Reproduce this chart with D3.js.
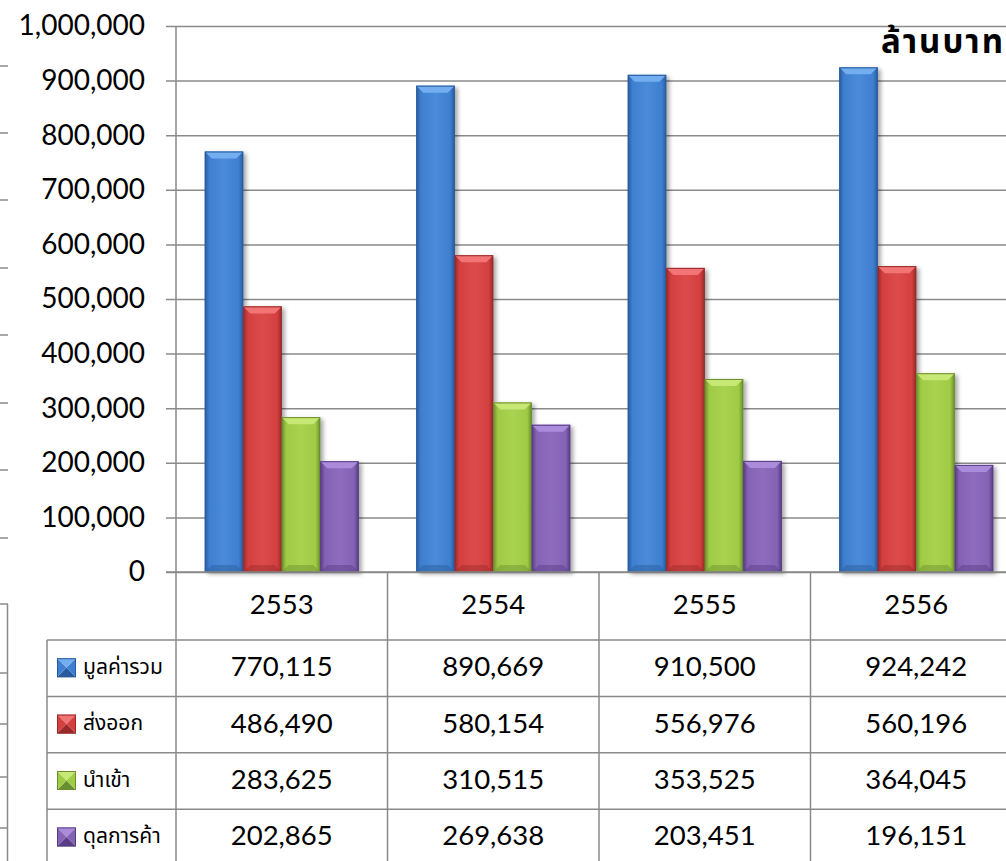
<!DOCTYPE html>
<html>
<head>
<meta charset="utf-8">
<script src="https://cdn.jsdelivr.net/npm/d3@7"></script>
<style>
html,body{margin:0;padding:0;background:#fff;}
svg{display:block;}
</style>
</head>
<body>
<svg id="chart" width="1006" height="861"></svg>
<script>
// ---- data ----
const categories = ["2553", "2554", "2555", "2556"];
const seriesNames = ["มูลค่ารวม", "ส่งออก", "นำเข้า", "ดุลการค้า"];
const totalValues   = [770115, 890669, 910500, 924242];
const exportValues  = [486490, 580154, 556976, 560196];
const importValues  = [283625, 310515, 353525, 364045];
const balanceValues = [202865, 269638, 203451, 196151];
const yTicks = [0, 100000, 200000, 300000, 400000, 500000, 600000, 700000, 800000, 900000, 1000000];
const unitLabel = "ล้านบาท";

const seriesValues = [totalValues, exportValues, importValues, balanceValues];
const palette = [
  {body:"#3e7fd0", light:"#72aef0", dark:"#285b9c"},
  {body:"#d43f3f", light:"#f27474", dark:"#982a2a"},
  {body:"#9fcb45", light:"#c8e875", dark:"#6b8e2e"},
  {body:"#8462b4", light:"#ab8cdb", dark:"#583c84"}
];

const numFont = "Lato, 'Open Sans', sans-serif";
const thaiFont = "Tahoma, 'Noto Sans Thai', Loma, Garuda, 'Noto Sans', 'DejaVu Sans', sans-serif";
const gridColor = "#8a8a8a";

const svg = d3.select("#chart");
const defs = svg.append("defs");
const f = defs.append("filter").attr("id","shadow").attr("x","-20%").attr("y","-5%").attr("width","150%").attr("height","115%");
f.append("feDropShadow").attr("dx",3).attr("dy",2).attr("stdDeviation",2).attr("flood-color","#000").attr("flood-opacity",0.35);

palette.forEach((p,i)=>{
  const g = defs.append("linearGradient").attr("id","grad"+i).attr("x1","0").attr("x2","1").attr("y1","0").attr("y2","0");
  g.append("stop").attr("offset","0").attr("stop-color",p.dark);
  g.append("stop").attr("offset","0.12").attr("stop-color",p.body);
  g.append("stop").attr("offset","0.5").attr("stop-color",d3.interpolateRgb(p.body,p.light)(0.25));
  g.append("stop").attr("offset","0.88").attr("stop-color",p.body);
  g.append("stop").attr("offset","1").attr("stop-color",p.dark);
});

// ---- layout ----
const plotLeft = 176, plotTop = 26, plotBottom = 572;
const catWidth = 211.5;
const x0 = d3.scaleBand().domain(categories).range([plotLeft, plotLeft + catWidth*categories.length]).padding(0);
const groupW = 154;
const x1 = d3.scaleBand().domain(seriesNames).range([(catWidth-groupW)/2, (catWidth+groupW)/2]).padding(0);
const y = d3.scaleLinear().domain([0, 1000000]).range([plotBottom, plotTop]);

// remnants of neighbouring chart at left edge
const leftTicks = [66, 133, 200, 268, 335, 403, 470, 538];
svg.append("g").selectAll("line").data(leftTicks).join("line")
  .attr("x1",0).attr("x2",8).attr("y1",d=>d).attr("y2",d=>d)
  .attr("stroke",gridColor).attr("stroke-width",1.5);
const leftRows = [604, 673, 724, 777, 828];
svg.append("g").selectAll("line").data(leftRows).join("line")
  .attr("x1",0).attr("x2",8).attr("y1",d=>d).attr("y2",d=>d)
  .attr("stroke",gridColor).attr("stroke-width",1.5);
svg.append("line").attr("x1",7.5).attr("x2",7.5).attr("y1",604).attr("y2",861).attr("stroke",gridColor).attr("stroke-width",1.5);

// gridlines
const yAxis = d3.axisLeft(y).tickValues(yTicks).tickSize(-(1006-plotLeft)).tickSizeOuter(0).tickPadding(31)
  .tickFormat(d3.format(","));
const ga = svg.append("g").attr("transform",`translate(${plotLeft},0)`).call(yAxis);
ga.select(".domain").remove();
ga.selectAll(".tick line").attr("stroke",gridColor).attr("stroke-width",1.5).attr("x1",-10);
ga.selectAll(".tick text").attr("font-family",numFont).attr("font-size",28).attr("fill","#000");

// vertical axis line
svg.append("line").attr("x1",plotLeft).attr("x2",plotLeft).attr("y1",plotTop).attr("y2",plotBottom)
  .attr("stroke",gridColor).attr("stroke-width",1.5);

// unit label
svg.append("text").attr("x",881).attr("y",53).attr("font-family",thaiFont).attr("font-weight","bold")
  .attr("font-size",33).attr("letter-spacing",2).attr("fill","#000").text(unitLabel);

// bars
const groups = svg.append("g").selectAll("g").data(categories).join("g")
  .attr("transform",d=>`translate(${x0(d)},0)`);
groups.each(function(cat, ci){
  const g = d3.select(this);
  seriesNames.forEach((s, si)=>{
    const v = seriesValues[si][ci];
    const bx = x1(s), bw = x1.bandwidth(), by = y(v), bh = y(0)-y(v);
    const p = palette[si];
    const bg = g.append("g");
    bg.append("rect").attr("x",bx).attr("y",by).attr("width",bw).attr("height",bh)
      .attr("fill","url(#grad"+si+")").attr("filter","url(#shadow)");
    const b = 7;
    bg.append("polygon").attr("points",[[bx,by],[bx+bw,by],[bx+bw-b,by+b],[bx+b,by+b]].map(q=>q.join(",")).join(" "))
      .attr("fill",p.light);
    bg.append("polygon").attr("points",[[bx,by+bh],[bx+bw,by+bh],[bx+bw-b,by+bh-b],[bx+b,by+bh-b]].map(q=>q.join(",")).join(" "))
      .attr("fill",p.dark).attr("opacity",0.45);
    bg.append("rect").attr("x",bx+0.5).attr("y",by+0.5).attr("width",bw-1).attr("height",bh-1)
      .attr("fill","none").attr("stroke",p.dark).attr("stroke-width",1);
  });
});

// x-axis line
svg.append("line").attr("x1",166).attr("x2",1006).attr("y1",plotBottom).attr("y2",plotBottom)
  .attr("stroke",gridColor).attr("stroke-width",1.5);

// ---- data table ----
const headerBottom = 640, rowH = 56.4;
const legendLeft = 47;
const tbl = svg.append("g");
const rowLines = d3.range(seriesNames.length+1).map(i=>headerBottom + i*rowH);
tbl.selectAll("line.h").data(rowLines).join("line").attr("class","h")
  .attr("x1",legendLeft).attr("x2",1006).attr("y1",d=>d).attr("y2",d=>d)
  .attr("stroke",gridColor).attr("stroke-width",1.5);
const vLines = categories.map(c=>x0(c)).concat([x0(categories[categories.length-1])+catWidth]);
tbl.selectAll("line.v").data(vLines).join("line").attr("class","v")
  .attr("x1",d=>d).attr("x2",d=>d).attr("y1",plotBottom).attr("y2",861)
  .attr("stroke",gridColor).attr("stroke-width",1.5);
tbl.append("line").attr("x1",legendLeft).attr("x2",legendLeft).attr("y1",headerBottom).attr("y2",861)
  .attr("stroke",gridColor).attr("stroke-width",1.5);

// header
tbl.selectAll("text.hdr").data(categories).join("text").attr("class","hdr")
  .attr("x",d=>x0(d)+catWidth/2).attr("y",(plotBottom+headerBottom)/2+1)
  .attr("text-anchor","middle").attr("dominant-baseline","middle")
  .attr("font-family",numFont).attr("font-size",27.5).attr("fill","#000").text(d=>d);

// rows
const fmt = d3.format(",");
seriesNames.forEach((s, si)=>{
  const cy = headerBottom + si*rowH + rowH/2;
  const p = palette[si];
  const kx = 57, ky = cy - 10, ks = 19, cx = kx+ks/2, cyy = ky+ks/2;
  const key = tbl.append("g");
  key.append("polygon").attr("points",`${kx},${ky} ${kx+ks},${ky} ${cx},${cyy}`).attr("fill",p.light);
  key.append("polygon").attr("points",`${kx},${ky+ks} ${kx+ks},${ky+ks} ${cx},${cyy}`).attr("fill",p.dark);
  key.append("polygon").attr("points",`${kx},${ky} ${kx},${ky+ks} ${cx},${cyy}`).attr("fill",p.body);
  key.append("polygon").attr("points",`${kx+ks},${ky} ${kx+ks},${ky+ks} ${cx},${cyy}`).attr("fill",p.body);
  key.append("rect").attr("x",kx+0.5).attr("y",ky+0.5).attr("width",ks-1).attr("height",ks-1)
    .attr("fill","none").attr("stroke",p.dark).attr("stroke-width",1);
  tbl.append("text").attr("x",83).attr("y",cy).attr("dominant-baseline","middle")
    .attr("font-family",thaiFont).attr("font-size",21).attr("fill","#000").text(s);
  categories.forEach((c, ci)=>{
    tbl.append("text").attr("x",x0(c)+catWidth/2).attr("y",cy+1)
      .attr("text-anchor","middle").attr("dominant-baseline","middle")
      .attr("font-family",numFont).attr("font-size",27.5).attr("fill","#000")
      .text(fmt(seriesValues[si][ci]));
  });
});
</script>
</body>
</html>
